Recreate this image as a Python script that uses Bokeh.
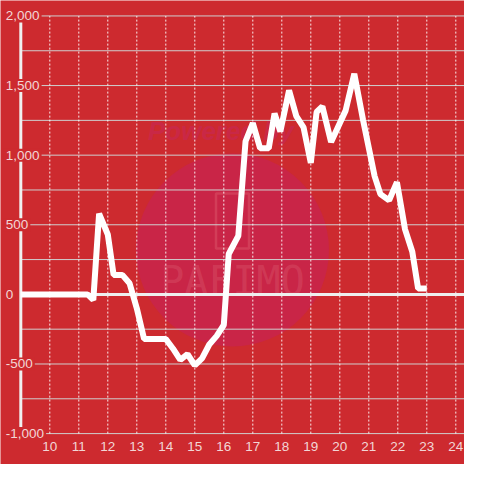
from bokeh.plotting import figure
from bokeh.models import Range1d, Label
from bokeh.core.properties import value
from bokeh.embed import file_html
from bokeh.resources import INLINE

# data
hours = [9.0, 11.3, 11.5, 11.7, 12.0, 12.2, 12.5, 12.75, 13.0, 13.25, 14.0, 14.25, 14.5,
         14.75, 15.0, 15.25, 15.5, 15.75, 16.0, 16.17, 16.5, 16.75, 17.0, 17.25, 17.55,
         17.75, 17.95, 18.25, 18.5, 18.75, 19.0, 19.2, 19.4, 19.7, 20.2, 20.5, 20.8,
         21.2, 21.4, 21.7, 21.97, 22.25, 22.5, 22.7, 23.0]
values = [0, 0, -40, 580, 430, 140, 140, 80, -100, -320, -320, -390, -470,
          -430, -510, -460, -360, -300, -220, 290, 420, 1100, 1230, 1050, 1050,
          1300, 1170, 1465, 1280, 1200, 945, 1310, 1350, 1095, 1320, 1585, 1255,
          850, 720, 675, 806, 467, 306, 42, 42]

x_ticks = list(range(10, 25))
x_tick_labels = [str(t) for t in x_ticks]
y_grid_ticks = [-1000, -750, -500, -250, 0, 250, 500, 750, 1000, 1250, 1500, 1750, 2000]
y_label_values = [-1000, -500, 0, 500, 1000, 1500, 2000]
y_label_texts = ["-1,000", "-500", "0", "500", "1,000", "1,500", "2,000"]

Y_MIN, Y_MAX = -1000, 2000
X_AXIS_AT = 9.0
X_START, X_END = 8.30, 24.30
Y_START, Y_END = -1222, 2111

BG = "#cd2a2f"
TXT = "#f2d6d6"
FONT = "Liberation Sans"

p = figure(width=464, height=464, x_range=Range1d(X_START, X_END),
           y_range=Range1d(Y_START, Y_END),
           output_backend="svg", toolbar_location=None,
           x_axis_location=None, y_axis_location=None,
           min_border_left=0, min_border_right=0, min_border_top=0, min_border_bottom=0)
p.background_fill_color = BG
p.border_fill_color = BG
p.outline_line_color = None
p.xgrid.visible = False
p.ygrid.visible = False

# watermark (decoration)
p.scatter(x=[16.3], y=[319], size=193, marker="circle", fill_color="#c92547",
          line_color=None, level="image")
p.rect(x=[16.3], y=[528], width=33, height=55, width_units="screen", height_units="screen",
       fill_color=None, line_color="#de5a6c", line_width=2.5, line_alpha=0.45, level="image")
p.text(x=[16.3], y=[97], text=["PAFIMO"], text_font=value("DejaVu Sans Mono"),
       text_font_size="40px", text_align="center", text_baseline="middle",
       text_color="#e06a7a", text_alpha=0.3, level="image")
p.text(x=[15.9], y=[1174], text=["Powered by"], text_font=value(FONT),
       text_font_size="26px", text_font_style="bold italic", text_align="center",
       text_baseline="middle", text_color="#c9284a", text_alpha=0.9, level="image")

# horizontal grid lines
n = len(y_grid_ticks)
p.segment(x0=[X_AXIS_AT] * n, x1=[X_END] * n, y0=y_grid_ticks, y1=y_grid_ticks,
          line_color="#cfcfcf", line_width=1, level="underlay")
# vertical dotted grid lines
m = len(x_ticks)
p.segment(x0=x_ticks, x1=x_ticks, y0=[Y_MIN] * m, y1=[Y_MAX] * m,
          line_color="white", line_dash="2 2", line_alpha=0.9, line_width=1,
          level="underlay")
# zero line
p.segment(x0=[X_AXIS_AT], x1=[X_END], y0=[0], y1=[0], line_color="#eeeeee",
          line_width=3, level="underlay")
# y axis line
p.segment(x0=[X_AXIS_AT], x1=[X_AXIS_AT], y0=[Y_MIN], y1=[Y_MAX], line_color="#f0f0f0",
          line_width=3, level="underlay")

# x tick labels
p.text(x=x_ticks, y=[Y_MIN] * m, text=x_tick_labels, y_offset=13,
       text_align="center", text_baseline="middle", text_color=TXT,
       text_font=value(FONT), text_font_size="13.5px")

# data line
p.line(hours, values, line_color="white", line_width=6)

# y labels with background boxes
for v, t in zip(y_label_values, y_label_texts):
    p.add_layout(Label(x=X_AXIS_AT, y=v, text=t, x_offset=-17, text_align="left",
                       text_baseline="middle", text_color=TXT, text_font=FONT,
                       text_font_size="13.5px", background_fill_color=BG,
                       padding=2))

open("out.html", "w").write(file_html(p, INLINE))
